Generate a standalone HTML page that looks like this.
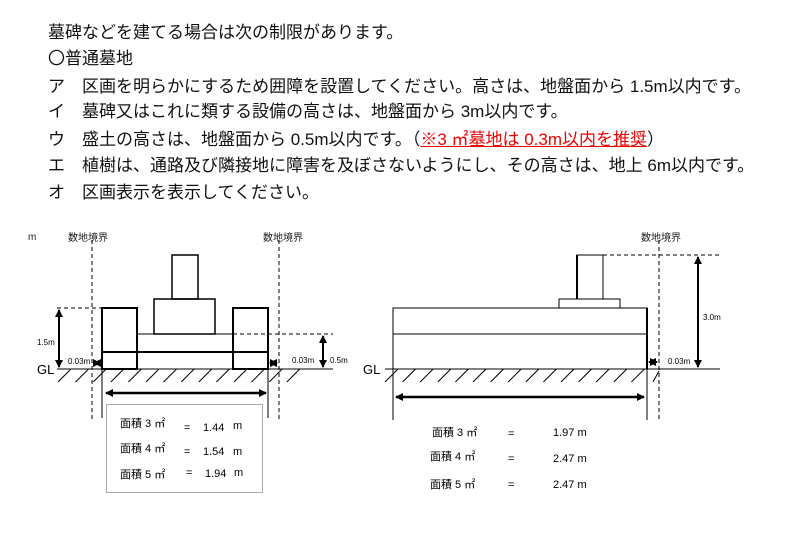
<!DOCTYPE html>
<html><head><meta charset="utf-8"><style>
body{margin:0;background:#fff;width:795px;height:533px;overflow:hidden;font-family:"Liberation Sans","Noto Sans CJK JP",sans-serif}
.t{position:absolute;left:48px;font-size:17px;line-height:20px;white-space:nowrap;color:#111}
.r{color:#e00;text-decoration:underline;}
svg{position:absolute;left:0;top:0}
</style></head><body>
<div class="t" style="top:23px">墓碑などを建てる場合は次の制限があります。</div>
<div class="t" style="top:49px">〇普通墓地</div>
<div class="t" style="top:77px">ア　区画を明らかにするため囲障を設置してください。高さは、地盤面から 1.5m以内です。</div>
<div class="t" style="top:102px">イ　墓碑又はこれに類する設備の高さは、地盤面から 3m以内です。</div>
<div class="t" style="top:130px">ウ　盛土の高さは、地盤面から 0.5m以内です。（<span class="r">※3 ㎡墓地は 0.3m以内を推奨</span>）</div>
<div class="t" style="top:156px">エ　植樹は、通路及び隣接地に障害を及ぼさないようにし、その高さは、地上 6m以内です。</div>
<div class="t" style="top:183px">オ　区画表示を表示してください。</div>
<svg width="795" height="533" font-family="Liberation Sans, Noto Sans CJK JP, sans-serif">
<defs>
<marker id="a" markerWidth="8" markerHeight="8" refX="7" refY="4" orient="auto-start-reverse" markerUnits="userSpaceOnUse"><path d="M0,0L8,4L0,8z" fill="#000"/></marker>
</defs>
<g font-size="10" fill="#222">
<text x="28" y="240">m</text>
<text x="68" y="241">数地境界</text>
<text x="263" y="241">数地境界</text>
<text x="641" y="241">数地境界</text>
</g>
<path stroke="#000" stroke-width="1" fill="none" d="M58,382l13,-13 M75.6,382l13,-13 M93.2,382l13,-13 M110.8,382l13,-13 M128.4,382l13,-13 M146,382l13,-13 M163.6,382l13,-13 M181.2,382l13,-13 M198.8,382l13,-13 M216.4,382l13,-13 M234,382l13,-13 M251.6,382l13,-13 M269.2,382l13,-13 M286.8,382l13,-13
M385,382l13,-13 M402.6,382l13,-13 M420.2,382l13,-13 M437.8,382l13,-13 M455.4,382l13,-13 M473,382l13,-13 M490.6,382l13,-13 M508.2,382l13,-13 M525.8,382l13,-13 M543.4,382l13,-13 M561,382l13,-13 M578.6,382l13,-13 M596.2,382l13,-13 M613.8,382l13,-13 M631.4,382l13,-13 M653,382l6,-11"/>
<g stroke="#000" stroke-dasharray="4,3" stroke-width="1" fill="none">
<line x1="92" y1="240" x2="92" y2="420"/><line x1="279" y1="240" x2="279" y2="420"/>
<line x1="57" y1="308" x2="102" y2="308"/><line x1="233" y1="334" x2="333" y2="334"/>
<line x1="659" y1="240" x2="659" y2="420"/><line x1="603" y1="255" x2="720" y2="255"/>
</g>
<g stroke="#000" fill="none" stroke-width="1">
<line x1="57" y1="369" x2="333" y2="369"/>
<rect x="172" y="255" width="26" height="44" stroke-width="1.5"/>
<rect x="154" y="299" width="61" height="35" stroke-width="1.5"/>
<rect x="137" y="334" width="96" height="35"/>
<rect x="102" y="308" width="35" height="61" stroke-width="2"/>
<rect x="233" y="308" width="35" height="61" stroke-width="2"/>
<line x1="102" y1="352" x2="268" y2="352" stroke-width="2"/>
<line x1="102" y1="369" x2="102" y2="418"/><line x1="268" y1="369" x2="268" y2="418"/>
<line x1="59" y1="310" x2="59" y2="367" stroke-width="2" marker-start="url(#a)" marker-end="url(#a)"/>
<line x1="323" y1="336" x2="323" y2="367" stroke-width="2" marker-start="url(#a)" marker-end="url(#a)"/>
<line x1="106" y1="393" x2="266" y2="393" stroke-width="2.5" marker-start="url(#a)" marker-end="url(#a)"/>
<line x1="94" y1="363" x2="100" y2="363" stroke-width="2" marker-start="url(#a)" marker-end="url(#a)"/>
<line x1="270" y1="363" x2="277" y2="363" stroke-width="2" marker-start="url(#a)" marker-end="url(#a)"/>
<rect x="106.5" y="404.5" width="156" height="88" stroke="#aaa"/>
</g>
<g font-size="8" fill="#000">
<text x="37" y="345">1.5m</text><text x="68" y="364">0.03m</text>
<text x="292" y="363">0.03m</text><text x="330" y="363">0.5m</text>
<text x="668" y="364">0.03m</text><text x="703" y="320">3.0m</text>
</g>
<text x="37" y="374" font-size="13">GL</text>
<text x="363" y="374" font-size="13">GL</text>
<g font-size="11" fill="#000">
<text x="120" y="427">面積 3 ㎡</text><text x="184" y="431">=</text><text x="203" y="431">1.44</text><text x="233" y="429">m</text>
<text x="120" y="452">面積 4 ㎡</text><text x="184" y="455">=</text><text x="203" y="455">1.54</text><text x="233" y="455">m</text>
<text x="120" y="478">面積 5 ㎡</text><text x="186" y="476">=</text><text x="205" y="477">1.94</text><text x="234" y="476">m</text>
<text x="432" y="436">面積 3 ㎡</text><text x="508" y="437">=</text><text x="553" y="436">1.97 m</text>
<text x="430" y="460">面積 4 ㎡</text><text x="508" y="462">=</text><text x="553" y="462">2.47 m</text>
<text x="430" y="488">面積 5 ㎡</text><text x="508" y="488">=</text><text x="553" y="488">2.47 m</text>
</g>
<g stroke="#000" fill="none" stroke-width="1">
<line x1="385" y1="369" x2="720" y2="369"/>
<rect x="393" y="308" width="254" height="61"/>
<line x1="647" y1="308" x2="647" y2="369" stroke-width="2"/>
<line x1="393" y1="334" x2="647" y2="334"/>
<rect x="559" y="299" width="61" height="9"/>
<rect x="577" y="255" width="26" height="44"/>
<line x1="577" y1="255" x2="577" y2="299" stroke-width="2"/>
<line x1="393" y1="369" x2="393" y2="420"/><line x1="647" y1="369" x2="647" y2="420"/>
<line x1="698" y1="257" x2="698" y2="367" stroke-width="2" marker-start="url(#a)" marker-end="url(#a)"/>
<line x1="396" y1="397" x2="644" y2="397" stroke-width="2.5" marker-start="url(#a)" marker-end="url(#a)"/>
<line x1="649" y1="362" x2="657" y2="362" stroke-width="2" marker-start="url(#a)" marker-end="url(#a)"/>
</g>
</svg>
</body></html>
